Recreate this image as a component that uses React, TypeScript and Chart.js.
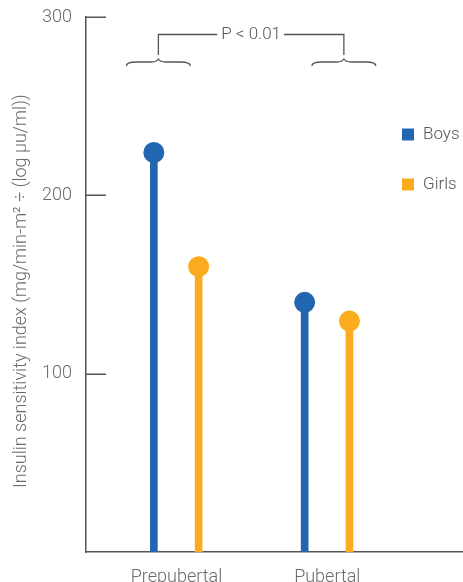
import React, { useEffect, useRef } from "react";
import { Chart, registerables } from "chart.js";

Chart.register(...registerables);

// Data
const groups = ["Prepubertal", "Pubertal"];
const boysValues = [224, 140];
const girlsValues = [160, 129.5];
const yTicks = [100, 200, 300];
const seriesNames = ["Boys", "Girls"];
const pLabel = "P < 0.01";
const yTitle = "Insulin sensitivity index (mg/min-m\u00b2 \u00f7 (log \u00b5u/ml))";

// Styling
const BLUE = "#2266b2";
const YELLOW = "#fbab1e";
const AXIS = "#555555";
const TEXT = "#6a6a6a";
const FONT = "Roboto, 'Noto Sans', sans-serif";

// Horizontal placement of the two lollipops within a group (x-axis units)
const BOYS_OFFSET = -0.15;
const GIRLS_OFFSET = 0.147;
// Brace centres for the significance bracket (x-axis units)
const BRACE_X = [0.88, 2.11];

const decorations = {
  id: "decorations",
  afterDraw(chart: any) {
    const { ctx, scales, chartArea } = chart;
    const y = scales.y;
    const x = scales.x;
    ctx.save();

    // inward tick marks on the y axis
    ctx.strokeStyle = AXIS;
    ctx.lineWidth = 1.5;
    yTicks.forEach((v) => {
      const py = Math.round(y.getPixelForValue(v)) + 0.25;
      ctx.beginPath();
      ctx.moveTo(chartArea.left, py);
      ctx.lineTo(chartArea.left + 20, py);
      ctx.stroke();
    });

    // y axis title
    ctx.fillStyle = TEXT;
    ctx.font = `300 18px ${FONT}`;
    ctx.save();
    ctx.translate(21, 488);
    ctx.rotate(-Math.PI / 2);
    ctx.textAlign = "left";
    ctx.textBaseline = "middle";
    ctx.fillText(yTitle, 0, 0);
    ctx.restore();

    // significance bracket with braces
    const bx = BRACE_X.map((v) => x.getPixelForValue(v));
    const lineY = 34.5;
    const tipY = 59;
    ctx.strokeStyle = AXIS;
    ctx.lineWidth = 1.3;
    ctx.font = `300 17px ${FONT}`;
    const midX = (bx[0] + bx[1]) / 2;
    const tw = ctx.measureText(pLabel).width;
    ctx.textAlign = "center";
    ctx.textBaseline = "middle";
    ctx.fillStyle = "#555";
    ctx.fillText(pLabel, midX, lineY);
    ctx.beginPath();
    ctx.moveTo(bx[0], 55);
    ctx.lineTo(bx[0], lineY);
    ctx.lineTo(midX - tw / 2 - 4, lineY);
    ctx.moveTo(midX + tw / 2 + 3, lineY);
    ctx.lineTo(bx[1], lineY);
    ctx.lineTo(bx[1], 55);
    ctx.stroke();

    bx.forEach((cx) => {
      const hw = 32;
      const midY = 62;
      const endY = 66;
      ctx.beginPath();
      ctx.moveTo(cx - hw, endY);
      ctx.quadraticCurveTo(cx - hw, midY, cx - hw + 10, midY);
      ctx.lineTo(cx - 7, midY);
      ctx.quadraticCurveTo(cx - 2, midY, cx, tipY);
      ctx.quadraticCurveTo(cx + 2, midY, cx + 7, midY);
      ctx.lineTo(cx + hw - 10, midY);
      ctx.quadraticCurveTo(cx + hw, midY, cx + hw, endY);
      ctx.stroke();
    });

    // legend
    const colors = [BLUE, YELLOW];
    const legendY = [134.5, 184.5];
    ctx.font = `300 17px ${FONT}`;
    ctx.textAlign = "left";
    ctx.textBaseline = "middle";
    seriesNames.forEach((name, i) => {
      ctx.fillStyle = colors[i];
      ctx.fillRect(402, legendY[i] - 6, 12, 12);
      ctx.fillStyle = "#555";
      ctx.fillText(name, 423, legendY[i]);
    });

    ctx.restore();
  },
};

export default function App() {
  const canvasRef = useRef<HTMLCanvasElement | null>(null);

  useEffect(() => {
    const canvas = canvasRef.current;
    if (!canvas) return;

    const stems: { x: number; y: number }[] = [];
    const stemColors: string[] = [];
    groups.forEach((_, i) => {
      stems.push({ x: i + 1 + BOYS_OFFSET, y: boysValues[i] });
      stemColors.push(BLUE);
      stems.push({ x: i + 1 + GIRLS_OFFSET, y: girlsValues[i] });
      stemColors.push(YELLOW);
    });

    const chart = new Chart(canvas, {
      type: "bar",
      data: {
        datasets: [
          {
            type: "scatter",
            data: stems,
            order: 0,
            pointRadius: 10.5,
            pointHoverRadius: 10.5,
            pointBorderWidth: 0,
            pointBackgroundColor: stemColors,
            backgroundColor: stemColors,
          } as any,
          {
            type: "bar",
            data: stems,
            order: 1,
            backgroundColor: stemColors,
            borderWidth: 0,
            barThickness: 7,
          } as any,
        ],
      },
      options: {
        responsive: false,
        animation: false,
        layout: { autoPadding: false, padding: { top: 17, left: 0, right: 0, bottom: 0 } },
        plugins: {
          legend: { display: false },
          tooltip: { enabled: false },
        },
        scales: {
          x: {
            type: "linear",
            min: 0.4,
            max: 2.9,
            offset: false,
            grid: { display: false, drawTicks: false },
            border: { display: true, color: AXIS, width: 1.5 },
            afterBuildTicks: (scale: any) => {
              scale.ticks = groups.map((_, i) => ({ value: i + 1 }));
            },
            afterFit: (scale: any) => {
              scale.height = 30;
              scale.paddingLeft = 0;
              scale.paddingRight = 0;
            },
            ticks: {
              padding: 15,
              color: TEXT,
              font: { family: FONT, size: 18, weight: "300" as any },
              callback: (v: any) => groups[Number(v) - 1] ?? "",
            },
          },
          y: {
            type: "linear",
            min: 0,
            max: 300,
            grid: { display: false, drawTicks: false },
            border: { display: true, color: AXIS, width: 1.5 },
            afterBuildTicks: (scale: any) => {
              scale.ticks = yTicks.map((v) => ({ value: v }));
            },
            afterFit: (scale: any) => {
              scale.width = 86;
              scale.paddingTop = 0;
              scale.paddingBottom = 0;
            },
            ticks: {
              padding: 14,
              color: TEXT,
              font: { family: FONT, size: 18, weight: "300" as any },
            },
          },
        },
      },
      plugins: [decorations],
    });

    return () => chart.destroy();
  }, []);

  return (
    <div style={{ position: "absolute", left: 0, top: 0, width: 463, height: 582, background: "#fff" }}>
      <canvas ref={canvasRef} width={463} height={582} style={{ display: "block" }} />
    </div>
  );
}
